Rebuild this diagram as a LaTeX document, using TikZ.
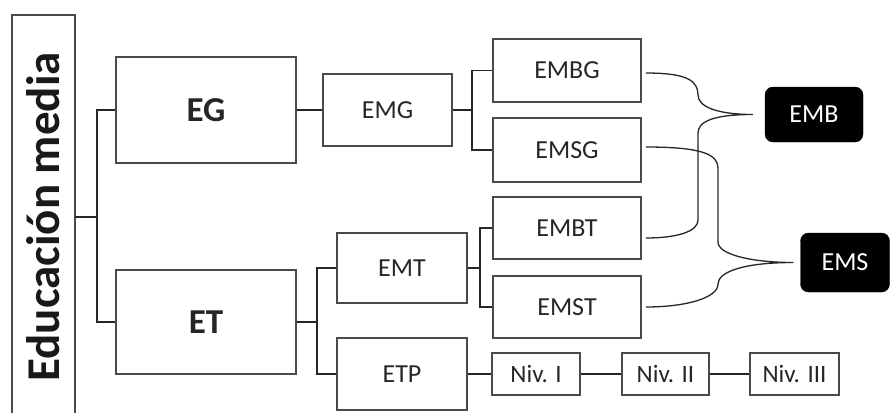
\documentclass[tikz,border=0pt]{standalone}
\usepackage{fontspec}
\setmainfont{Carlito}
\usetikzlibrary{calc}
\definecolor{boxline}{HTML}{4A4A4A}
\definecolor{txt}{HTML}{262626}
\tikzset{
  box/.style={draw=boxline, line width=1.5pt, rectangle, inner sep=0pt, text=txt, font=\fontsize{26}{28}\selectfont},
  bigbox/.style={box, font=\fontsize{35}{38}\selectfont\bfseries},
  nivbox/.style={box, minimum height=42pt, font=\fontsize{25}{27}\selectfont},
  blackbox/.style={draw=black, fill=black, rounded corners=8pt, text=white, inner sep=0pt, font=\fontsize{26}{28}\selectfont},
  conn/.style={draw=black!85, line width=1.3pt},
}
\begin{document}
\begin{tikzpicture}[x=1pt,y=-1pt]
\useasboundingbox (0,0) rectangle (890,412);
\clip (0,0) rectangle (890,412);
% left title box
\node[rotate=90, inner sep=0pt, minimum width=404pt, minimum height=63pt, text=black!90, font=\fontsize{47}{50}\selectfont\bfseries] (edu) at (43.5,217) {Educación media};
\draw[draw=boxline, line width=1.5pt] (12,425) -- (12,15) -- (75,15) -- (75,425);
% main boxes
\node[bigbox, minimum width=180pt, minimum height=106pt] (EG) at (206,110) {EG};
\node[bigbox, minimum width=180pt, minimum height=104pt] (ET) at (206,322) {ET};
\node[box, minimum width=129pt, minimum height=72pt] (EMG) at (387.5,110) {EMG};
\node[box, minimum width=130pt, minimum height=70pt] (EMT) at (402,268) {EMT};
\node[box, minimum width=130pt, minimum height=72pt] (ETP) at (402,374) {ETP};
\node[box, minimum width=148pt, minimum height=63pt] (EMBG) at (567,70.5) {EMBG};
\node[box, minimum width=148pt, minimum height=64pt] (EMSG) at (567,150) {EMSG};
\node[box, minimum width=148pt, minimum height=62pt] (EMBT) at (567,228) {EMBT};
\node[box, minimum width=148pt, minimum height=62pt] (EMST) at (567,307) {EMST};
\node[nivbox, minimum width=88pt] (N1) at (536,374) {Niv. I};
\node[nivbox, minimum width=87pt] (N2) at (665.5,374) {Niv. II};
\node[nivbox, minimum width=89pt] (N3) at (794.5,374) {Niv. III};
\node[blackbox, minimum width=98pt, minimum height=55pt] (EMB) at (814,114.5) {EMB};
\node[blackbox, minimum width=89pt, minimum height=59pt] (EMS) at (845,262.5) {EMS};
% junctions
\coordinate (j0) at (97,217);
\coordinate (j1) at (472,110);
\coordinate (j2) at (317,322);
\coordinate (j3) at (480,268);
% connectors
\draw[conn] (edu.south) -- (j0);
\draw[conn] (EG.west) -| (j0) |- (ET.west);
\draw[conn] (EG.east) -- (EMG.west);
\draw[conn] (EMG.east) -- (j1);
\draw[conn] (EMBG.west) -| (j1) |- (EMSG.west);
\draw[conn] (ET.east) -- (j2);
\draw[conn] (EMT.west) -| (j2) |- (ETP.west);
\draw[conn] (EMT.east) -- (j3);
\draw[conn] (EMBT.west) -| (j3) |- (EMST.west);
\draw[conn] (ETP.east) -- (N1.west);
\draw[conn] (N1.east) -- (N2.west);
\draw[conn] (N2.east) -- (N3.west);
% braces
\coordinate (a1) at ($(EMBG.east)+(4,2.5)$);
\coordinate (a2) at ($(EMBT.east)+(4,10)$);
\coordinate (t1) at ($(EMB.west)+(-12,0)$);
\coordinate (b1) at ($(EMSG.east)+(4,-3)$);
\coordinate (b2) at ($(EMST.east)+(4,0)$);
\coordinate (t2) at ($(EMS.west)+(-7,0)$);
\draw[conn] (a1) .. controls +(42,0) and +(0,-14) .. (698,95)
  .. controls +(0,13) and +(-32,0) .. (t1)
  .. controls +(-38,0) and +(0,-12) .. (698,133)
  -- (698,220) .. controls +(0,12) and +(30,0) .. (a2);
\draw[conn] (b1) .. controls +(55,0) and +(0,-14) .. (718,168)
  -- (718,242) .. controls +(0,13) and +(-40,0) .. (t2)
  .. controls +(-50,0) and +(0,-12) .. (718,284)
  .. controls +(0,14) and +(40,0) .. (b2);
\end{tikzpicture}
\end{document}
